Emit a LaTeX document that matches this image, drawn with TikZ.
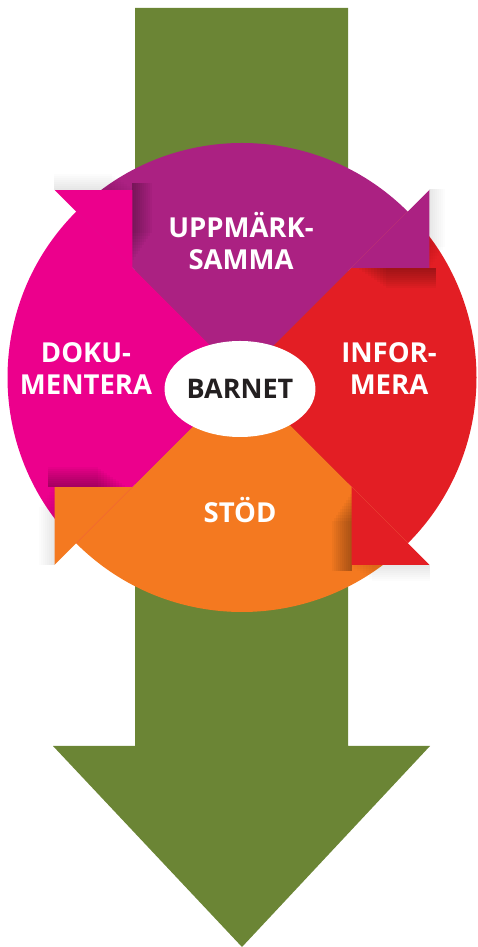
\documentclass[tikz,border=0pt]{standalone}
\usepackage{fontspec}
\setmainfont{Open Sans}
\usetikzlibrary{shapes.geometric}

\definecolor{colPil}{HTML}{6B8535}
\definecolor{colUpp}{HTML}{AB2182}
\definecolor{colInf}{HTML}{E31E24}
\definecolor{colStod}{HTML}{F47920}
\definecolor{colDok}{HTML}{EC008C}
\definecolor{colBarn}{HTML}{231F20}

\begin{document}
\begin{tikzpicture}[x=1pt,y=1pt,
  rubrik/.style={text=white,font=\bfseries\fontsize{27.5}{32}\selectfont,align=center,inner sep=0pt},
  mitt/.style={ellipse,fill=white,minimum width=138pt,minimum height=96pt,inner sep=0pt,
               text=colBarn,font=\bfseries\fontsize{27}{32}\selectfont}]

  \useasboundingbox (0,0) rectangle (477,947);
  \pgfmathsetmacro{\R}{234.5} ;
  \coordinate (mid) at (242,569.5) ;

  % big green arrow
  \fill[colPil] (135,939) -- (348,939) -- (348,201) -- (430,201)
               -- (242,0) -- (53,201) -- (135,201) -- cycle ;

  % the four quarters
  \foreach \a/\c in {45/colUpp, -45/colInf, -135/colStod, 135/colDok}
    \fill[\c] (mid) -- ++(\a:\R) arc[start angle=\a, end angle=\a+90, radius=\R] -- cycle ;

  % arrow heads with soft shadow
  \foreach \r/\c in {0/colUpp, -90/colInf, 180/colStod, 90/colDok} {
    \begin{scope}[shift={(mid)}, rotate=\r]
      \foreach \k in {1,...,10}
        \fill[black,opacity=0.032] (114+3*\k,109.6-2*\k) rectangle (194,109.6) ;
      \foreach \k in {1,...,8}
        \fill[black,opacity=0.012] (187.4,106+3*\k) rectangle (187.4+2*\k,188) ;
      \fill[\c] (109.6,109.6) -- (187.4,109.6) -- (187.4,187.4) -- cycle ;
    \end{scope}
  }

  \node[mitt]   at (240,558) (barnet) {BARNET} ;
  \node[rubrik] at (241,706) (uppm)   {UPPMÄRK-\\SAMMA} ;
  \node[rubrik] at ( 86,578) (doku)   {DOKU-\\MENTERA} ;
  \node[rubrik] at (389,578) (info)   {INFOR-\\MERA} ;
  \node[rubrik,anchor=base] at (240,424) (stod) {STÖD} ;

\end{tikzpicture}
\end{document}
